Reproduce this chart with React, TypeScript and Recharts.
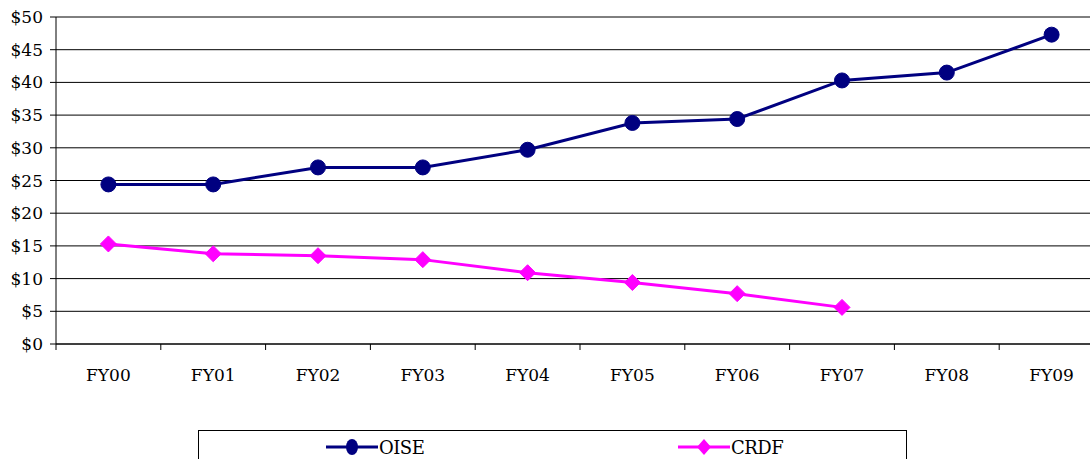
import React from "react";
import { LineChart, Line, XAxis, YAxis, CartesianGrid, Legend } from "recharts";

const categories = ["FY00", "FY01", "FY02", "FY03", "FY04", "FY05", "FY06", "FY07", "FY08", "FY09"];
const oise = [24.4, 24.4, 27.0, 27.0, 29.7, 33.8, 34.4, 40.3, 41.5, 47.3];
const crdf: (number | null)[] = [15.3, 13.8, 13.5, 12.9, 10.9, 9.4, 7.7, 5.6, null, null];
const yTicks = [0, 5, 10, 15, 20, 25, 30, 35, 40, 45, 50];
const seriesNames = ["OISE", "CRDF"];
const seriesColors = ["#000080", "#FF00FF"];

const data = categories.map((c, i) => ({ cat: c, OISE: oise[i], CRDF: crdf[i] }));

const CHART_W = 1110;
const CHART_H = 459;
const MARGIN = { top: 17, right: 6, bottom: 75, left: 0 };
const Y_W = 56;
const BAND = (CHART_W - MARGIN.left - MARGIN.right - Y_W) / categories.length;
const FONT = "DejaVu Serif";

const CircleDot = (props: any) => {
  const { cx, cy, value } = props;
  if (value == null || cx == null || cy == null) return null;
  return <circle cx={cx} cy={cy} r={7.5} fill={seriesColors[0]} stroke={seriesColors[0]} strokeWidth={1} />;
};

const DiamondDot = (props: any) => {
  const { cx, cy, value } = props;
  if (value == null || cx == null || cy == null) return null;
  const s = 8;
  return (
    <path
      d={`M${cx},${cy - s} L${cx + s},${cy} L${cx},${cy + s} L${cx - s},${cy} Z`}
      fill={seriesColors[1]}
      stroke={seriesColors[1]}
    />
  );
};

const XTick = (props: any) => {
  const { x, y, payload } = props;
  const half = BAND / 2;
  return (
    <g>
      <line x1={x - half} y1={y} x2={x - half} y2={y + 6} stroke="#000" strokeWidth={1} />
      <text x={x} y={y + 37} textAnchor="middle" fill="#000" fontSize={17} style={{ fontFamily: FONT }}>
        {payload.value}
      </text>
    </g>
  );
};

const LegendContent = () => {
  const offsets = [127, 479];
  return (
    <div
      style={{
        position: "relative",
        width: 709,
        height: 40,
        border: "1px solid #000",
        boxSizing: "border-box",
        background: "#fff",
        fontFamily: FONT,
      }}
    >
      {seriesNames.map((n, i) => (
        <div
          key={n}
          style={{ position: "absolute", left: offsets[i], top: 3, display: "flex", alignItems: "center", height: 26 }}
        >
          <svg width={52} height={20} style={{ display: "block" }}>
            <line x1={0} y1={10} x2={52} y2={10} stroke={seriesColors[i]} strokeWidth={3} />
            {i === 0 ? (
              <ellipse cx={26} cy={10} rx={6} ry={8} fill={seriesColors[i]} />
            ) : (
              <path d="M26,2 L33,10 L26,18 L19,10 Z" fill={seriesColors[i]} />
            )}
          </svg>
          <span style={{ fontSize: 18, color: "#000", letterSpacing: -0.5, marginLeft: 1 }}>{n}</span>
        </div>
      ))}
    </div>
  );
};

export default function App() {
  return (
    <div style={{ position: "absolute", left: 0, top: 0, width: 1090, height: 459, overflow: "hidden", background: "#fff" }}>
      <LineChart width={CHART_W} height={CHART_H} data={data} margin={MARGIN}>
        <CartesianGrid vertical={false} stroke="#000" strokeWidth={1} />
        <XAxis
          dataKey="cat"
          scale="band"
          stroke="#000"
          tickLine={false}
          tickSize={0}
          tickMargin={0}
          height={40}
          tick={<XTick />}
          interval={0}
        />
        <YAxis
          width={Y_W}
          domain={[0, 50]}
          ticks={yTicks}
          interval={0}
          tickFormatter={(v: number) => `$${v}`}
          stroke="#000"
          tickSize={6}
          tickMargin={7}
          tick={{ fill: "#000", fontSize: 17, style: { fontFamily: FONT } }}
        />
        <Legend
          layout="horizontal"
          verticalAlign="middle"
          align="center"
          wrapperStyle={{ position: "absolute", left: 198, top: 430, width: 709 }}
          content={<LegendContent />}
        />
        <Line
          type="linear"
          dataKey="OISE"
          stroke={seriesColors[0]}
          strokeWidth={3}
          dot={<CircleDot />}
          activeDot={false}
          isAnimationActive={false}
        />
        <Line
          type="linear"
          dataKey="CRDF"
          stroke={seriesColors[1]}
          strokeWidth={3}
          dot={<DiamondDot />}
          activeDot={false}
          isAnimationActive={false}
          connectNulls={false}
        />
      </LineChart>
    </div>
  );
}
